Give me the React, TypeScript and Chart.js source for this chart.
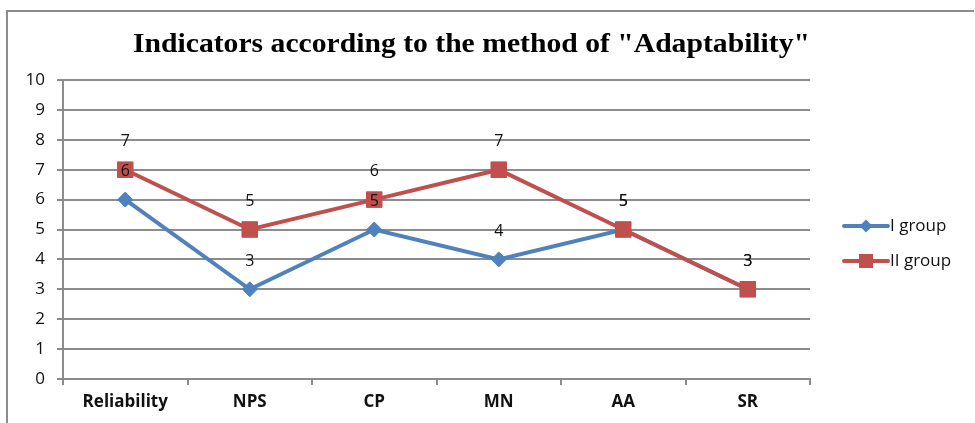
import React, { useEffect, useRef } from "react";
import { Chart, registerables } from "chart.js";

Chart.register(...registerables);

const TITLE = 'Indicators according to the method of "Adaptability"';
const categories = ["Reliability", "NPS", "CP", "MN", "AA", "SR"];
const groupI = [6, 3, 5, 4, 5, 3];
const groupII = [7, 5, 6, 7, 5, 3];
const seriesNames = ["I group", "II group"];
const yTicks = { min: 0, max: 10, step: 1 };

const BLUE = "#4F81BD";
const RED = "#C0504D";
const GRID = "#8c8c8c";
const FONT = "'Open Sans', Lato, sans-serif";

const framePlugin = {
  id: "frame",
  beforeDraw(chart: any) {
    const ctx = chart.ctx;
    ctx.save();
    ctx.strokeStyle = GRID;
    ctx.lineWidth = 2;
    ctx.beginPath();
    ctx.moveTo(7, 423);
    ctx.lineTo(7, 11);
    ctx.lineTo(974, 11);
    ctx.stroke();
    // title
    ctx.fillStyle = "#000";
    ctx.font = "bold 27px 'Liberation Serif', 'Times New Roman', serif";
    ctx.textBaseline = "middle";
    ctx.textAlign = "left";
    const w = ctx.measureText(TITLE).width;
    const target = 677;
    const sx = target / w;
    ctx.translate(133, 45);
    ctx.scale(sx, 1);
    ctx.fillText(TITLE, 0, 0);
    ctx.restore();
  },
};

const labelsPlugin = {
  id: "dlabels",
  afterDatasetsDraw(chart: any) {
    const ctx = chart.ctx;
    ctx.save();
    ctx.font = `16px ${FONT}`;
    ctx.fillStyle = "#111";
    ctx.textAlign = "center";
    ctx.textBaseline = "middle";
    chart.data.datasets.forEach((ds: any, i: number) => {
      const meta = chart.getDatasetMeta(i);
      meta.data.forEach((pt: any, j: number) => {
        ctx.fillText(String(ds.data[j]), pt.x, pt.y - 28);
      });
    });
    ctx.restore();
  },
};

const legendPlugin = {
  id: "customLegend",
  afterDraw(chart: any) {
    const ctx = chart.ctx;
    ctx.save();
    const rows = [
      { y: 226, color: BLUE, style: "diamond" },
      { y: 261, color: RED, style: "square" },
    ];
    rows.forEach((r, i) => {
      ctx.strokeStyle = r.color;
      ctx.lineWidth = 4;
      ctx.lineCap = "round";
      ctx.beginPath();
      ctx.moveTo(844, r.y);
      ctx.lineTo(888, r.y);
      ctx.stroke();
      ctx.fillStyle = r.color;
      ctx.beginPath();
      if (r.style === "diamond") {
        ctx.moveTo(866, r.y - 6.5);
        ctx.lineTo(872.5, r.y);
        ctx.lineTo(866, r.y + 6.5);
        ctx.lineTo(859.5, r.y);
        ctx.closePath();
      } else {
        ctx.rect(859, r.y - 7, 14, 14);
      }
      ctx.fill();
      ctx.fillStyle = "#111";
      ctx.font = `17px ${FONT}`;
      ctx.textAlign = "left";
      ctx.textBaseline = "middle";
      ctx.fillText(seriesNames[i], 890, r.y);
    });
    ctx.restore();
  },
};

export default function App() {
  const ref = useRef<HTMLCanvasElement>(null);
  useEffect(() => {
    const chart = new Chart(ref.current as HTMLCanvasElement, {
      type: "line",
      data: {
        labels: categories,
        datasets: [
          {
            label: seriesNames[0],
            data: groupI,
            order: 2,
            borderColor: BLUE,
            backgroundColor: BLUE,
            borderWidth: 4,
            pointStyle: "rectRot",
            pointRadius: 7.5,
            pointBorderWidth: 1,
            pointBorderColor: BLUE,
            tension: 0,
          },
          {
            label: seriesNames[1],
            data: groupII,
            order: 1,
            borderColor: RED,
            backgroundColor: RED,
            borderWidth: 4,
            pointStyle: "rect",
            pointRadius: 11,
            pointBorderWidth: 1,
            pointBorderColor: RED,
            tension: 0,
          },
        ],
      },
      options: {
        responsive: false,
        animation: false,
        layout: { padding: { left: 0, top: 80, right: 165, bottom: 0 } },
        plugins: {
          legend: { display: false },
          title: { display: false },
          tooltip: { enabled: false },
        },
        scales: {
          x: {
            offset: true,
            grid: {
              offset: true,
              drawOnChartArea: false,
              drawTicks: true,
              tickLength: 6,
              tickColor: GRID,
              lineWidth: 2,
            },
            border: { display: true, color: GRID, width: 2 },
            ticks: {
              padding: 7,
              color: "#111",
              font: { family: FONT, size: 17, weight: "bold" },
              maxRotation: 0,
            },
            afterFit(scale: any) {
              scale.height = 44;
            },
          },
          y: {
            min: yTicks.min,
            max: yTicks.max,
            ticks: {
              stepSize: yTicks.step,
              padding: 12,
              color: "#111",
              font: { family: FONT, size: 17 },
            },
            grid: {
              color: GRID,
              lineWidth: 2,
              drawTicks: true,
              tickLength: 6,
              tickColor: GRID,
            },
            border: { display: true, color: GRID, width: 2 },
            afterFit(scale: any) {
              scale.width = 63;
            },
          },
        },
      },
      plugins: [framePlugin, labelsPlugin, legendPlugin],
    } as any);
    return () => chart.destroy();
  }, []);
  return (
    <div style={{ position: "fixed", left: 0, top: 0, width: 975, height: 423, background: "#fff" }}>
      <canvas ref={ref} width={975} height={423} style={{ display: "block" }} />
    </div>
  );
}
